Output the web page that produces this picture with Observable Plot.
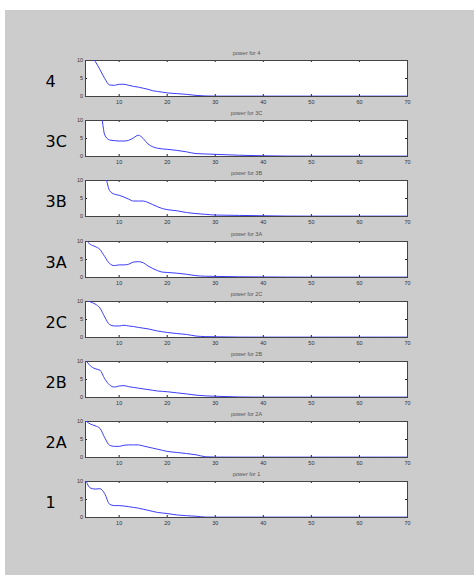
<!DOCTYPE html>
<html><head><meta charset="utf-8">
<script src="https://cdn.jsdelivr.net/npm/d3@7"></script>
<script src="https://cdn.jsdelivr.net/npm/@observablehq/plot@0.6"></script>
<style>
body{margin:0;background:#fff;width:474px;height:575px;overflow:hidden;position:relative;font-family:"Liberation Sans",Arial,sans-serif}
#bg{position:absolute;left:5px;top:10px;width:469px;height:565px;background:#cccccc}
.panel{position:absolute;left:0}
</style></head><body><div id="bg"></div><div id="wrap"></div>
<script>
const names = ["4", "3C", "3B", "3A", "2C", "2B", "2A", "1"];
const titles = ["power for 4", "power for 3C", "power for 3B", "power for 3A", "power for 2C", "power for 2B", "power for 2A", "power for 1"];
const xs = [3,4,5,6,7,8,9,10,11,12,13,14,15,16,17,18,19,20,22,24,26,28,30,35,40,45,50,55,60,65,70];
const xTicks = [10, 20, 30, 40, 50, 60, 70];
const yTicks = [0, 5, 10];
const s4  = [13,11.5,9.8,7.5,5,3.2,3.1,3.4,3.4,3.1,2.8,2.6,2.3,2.0,1.6,1.4,1.2,1.0, 0.8,0.6,0.3,0.15,0.1, 0.1,0.1,0.1,0.1,0.1,0.1,0.1,0.1];
const s3C = [20,17,15.5,14,6.0,4.6,4.4,4.3,4.3,4.5,5.2,5.9,5.0,3.5,2.7,2.3,2.1,2.0, 1.7,1.3,0.8,0.7,0.6, 0.35,0.2,0.12,0.1,0.1,0.1,0.1,0.1];
const s3B = [20,17,15,13.5,12,7.2,6.2,5.9,5.4,4.8,4.3,4.3,4.3,3.9,3.3,2.7,2.2,1.9, 1.6,1.1,0.8,0.6,0.4, 0.3,0.2,0.12,0.1,0.1,0.1,0.1,0.1];
const s3A = [10.5,9.2,8.6,7.8,5.8,3.9,3.3,3.5,3.5,3.7,4.3,4.4,4.1,3.2,2.5,1.9,1.5,1.4, 1.2,0.9,0.5,0.35,0.3, 0.2,0.15,0.12,0.1,0.1,0.1,0.1,0.1];
const s2C = [10.5,9.9,9.3,8.2,5.7,3.6,3.2,3.2,3.4,3.2,3.05,2.8,2.6,2.4,2.1,1.8,1.6,1.4, 1.1,0.85,0.4,0.25,0.2, 0.12,0.1,0.1,0.1,0.1,0.1,0.1,0.1];
const s2B = [10.5,8.8,8.0,7.6,5.2,3.5,2.9,3.2,3.3,3.0,2.8,2.6,2.4,2.2,2.0,1.8,1.7,1.6, 1.3,1.0,0.65,0.45,0.35, 0.15,0.1,0.1,0.1,0.1,0.1,0.1,0.1];
const s2A = [10.2,9.3,8.8,8.1,5.5,3.4,3.1,3.1,3.4,3.5,3.5,3.5,3.2,2.9,2.6,2.3,2.0,1.7, 1.4,1.1,0.75,0.2,0.12, 0.1,0.1,0.1,0.1,0.1,0.1,0.1,0.1];
const s1  = [10.5,8.2,7.9,8.0,6.6,3.7,3.3,3.3,3.2,3.0,2.8,2.6,2.3,2.0,1.7,1.4,1.25,1.1, 0.7,0.5,0.35,0.12,0.1, 0.1,0.1,0.1,0.1,0.1,0.1,0.1,0.1];
const series = [s4, s3C, s3B, s3A, s2C, s2B, s2A, s1];

const wrap = document.getElementById("wrap");
series.forEach((vals, i) => {
  const data = xs.map((x, j) => ({x, y: vals[j]}));
  const chart = Plot.plot({
    width: 474, height: 60,
    marginLeft: 85, marginRight: 67, marginTop: 14, marginBottom: 10,
    style: {background: "transparent", fontFamily: "Liberation Sans, Arial, sans-serif", overflow: "visible"},
    x: {domain: [3, 70]},
    y: {domain: [0, 10]},
    marks: [
      Plot.frame({fill: "white", stroke: null}),
      Plot.ruleX(xTicks, {y1: 0, y2: 0.55, stroke: "#222"}),
      Plot.ruleX(xTicks, {y1: 9.45, y2: 10, stroke: "#222"}),
      Plot.ruleY(yTicks, {x1: 3, x2: 3.42, stroke: "#222"}),
      Plot.ruleY(yTicks, {x1: 69.58, x2: 70, stroke: "#222"}),
      Plot.frame({stroke: "#444"}),
      Plot.line(data, {x: "x", y: "y", stroke: "#3c3cff", strokeWidth: 1, curve: "monotone-x", clip: true}),
      Plot.axisX({ticks: xTicks, tickSize: 0, tickPadding: 4, fontSize: 5.5, label: null, fill: "#333"}),
      Plot.axisY({ticks: yTicks, tickSize: 0, tickPadding: 2.5, fontSize: 5.5, label: null, fill: "#333"}),
      Plot.text([titles[i]], {text: d => d, frameAnchor: "top", dy: -9, fontSize: 5.5, fill: "#555"}),
      Plot.text([names[i]], {text: d => d, frameAnchor: "left", dx: -40, dy: 3, textAnchor: "start", fontSize: 16, fontFamily: "DejaVu Sans", fill: "#000"})
    ]
  });
  chart.classList.add("panel");
  chart.style.top = (46 + i * 60.2) + "px";
  wrap.appendChild(chart);
});
</script></body></html>
